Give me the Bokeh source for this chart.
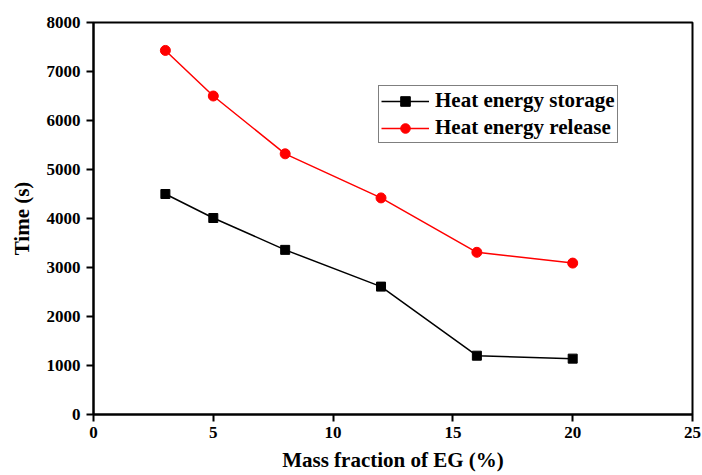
from bokeh.plotting import figure
from bokeh.models import FixedTicker, Legend, LegendItem, Range1d
from bokeh.embed import file_html
from bokeh.resources import INLINE

x_vals = [3, 5, 8, 12, 16, 20]
storage = [4500, 4010, 3360, 2610, 1200, 1140]
release = [7430, 6500, 5320, 4420, 3310, 3090]
x_ticks = [0, 5, 10, 15, 20, 25]
y_ticks = [0, 1000, 2000, 3000, 4000, 5000, 6000, 7000, 8000]

FONT = "Liberation Serif"

p = figure(width=702, height=475, output_backend="svg", toolbar_location=None,
           x_range=Range1d(0, 25), y_range=Range1d(0, 8000),
           min_border_left=93, min_border_right=10, min_border_top=22, min_border_bottom=61)
p.grid.visible = False
p.outline_line_color = "black"
p.outline_line_width = 2

for ax in (p.xaxis[0], p.yaxis[0]):
    ax.axis_line_width = 2
    ax.major_tick_line_width = 2
    ax.major_tick_out = 7
    ax.major_tick_in = 0
    ax.minor_tick_line_color = None
    ax.major_label_text_font = FONT
    ax.major_label_text_font_style = "bold"
    ax.major_label_text_font_size = "17px"
    ax.major_label_text_color = "black"
    ax.major_label_text_line_height = 0.9
    ax.axis_label_text_font = FONT
    ax.axis_label_text_font_style = "bold"
    ax.axis_label_text_font_size = "21px"
    ax.axis_label_text_color = "black"
    ax.axis_label_text_line_height = 0.9

p.xaxis[0].ticker = FixedTicker(ticks=x_ticks)
p.yaxis[0].ticker = FixedTicker(ticks=y_ticks)
p.xaxis[0].axis_label = "Mass fraction of EG (%)"
p.yaxis[0].axis_label = "Time (s)"
p.xaxis[0].major_label_standoff = 5
p.xaxis[0].axis_label_standoff = 7
p.yaxis[0].major_label_standoff = 6
p.yaxis[0].axis_label_standoff = 10

l1 = p.line(x_vals, storage, line_color="black", line_width=1.5)
m1 = p.scatter(x_vals, storage, marker="square", size=9, fill_color="black", line_color="black")
l2 = p.line(x_vals, release, line_color="red", line_width=1.5)
m2 = p.scatter(x_vals, release, marker="circle", size=10, fill_color="red", line_color="red")

legend = Legend(items=[LegendItem(label="Heat energy storage", renderers=[l1, m1]),
                       LegendItem(label="Heat energy release", renderers=[l2, m2])],
                location=(285, 271))
legend.label_text_font = FONT
legend.label_text_font_style = "bold"
legend.label_text_font_size = "21px"
legend.label_text_color = "black"
legend.border_line_color = "black"
legend.border_line_width = 1
legend.glyph_width = 48
legend.glyph_height = 24
legend.label_height = 24
legend.label_standoff = 6
legend.spacing = 2
legend.padding = 2
legend.margin = 0
legend.background_fill_alpha = 1
p.add_layout(legend, "center")

open("out.html", "w").write(file_html(p, INLINE))
